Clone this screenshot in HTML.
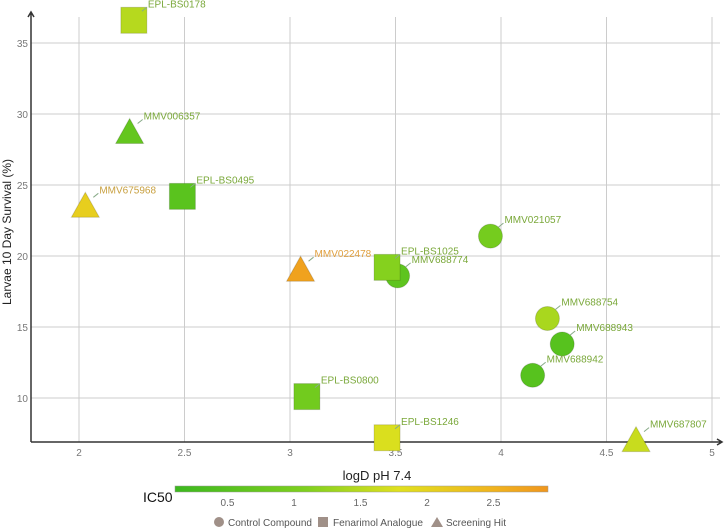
<!DOCTYPE html>
<html><head><meta charset="utf-8"><style>
html,body{margin:0;padding:0;background:#fff;}
svg{display:block;font-family:"Liberation Sans",sans-serif;}
</style></head><body>
<svg id="chart" width="725" height="531" viewBox="0 0 725 531">
<g id="grid"></g>
<g id="axes"></g>
<g id="marks"></g>
<text x="377" y="480" font-size="13" text-anchor="middle" fill="#222">logD pH 7.4</text>
<text transform="translate(11,232) rotate(-90)" font-size="12" text-anchor="middle" fill="#222">Larvae 10 Day Survival (%)</text>
<defs><linearGradient id="cg" x1="0" x2="1" y1="0" y2="0">
<stop offset="0" stop-color="#3cb81e"/><stop offset="0.35" stop-color="#7fd01e"/><stop offset="0.6" stop-color="#e0e01e"/><stop offset="0.85" stop-color="#f0b41e"/><stop offset="1" stop-color="#f0961e"/></linearGradient></defs>
<rect x="175" y="486" width="373" height="6" fill="url(#cg)" stroke="#999" stroke-width="0.5"/>
<text x="143" y="502" font-size="14" fill="#111">IC50</text>
<g id="cbticks"></g>
<g font-size="10.5" fill="#555">
<g><circle cx="219" cy="522" r="5" fill="#a09088"/><text x="228" y="526" textLength="84" lengthAdjust="spacingAndGlyphs">Control Compound</text></g>
<g><rect x="318" y="517" width="10" height="10" fill="#a09088"/><text x="333" y="526" textLength="90" lengthAdjust="spacingAndGlyphs">Fenarimol Analogue</text></g>
<g><polygon points="431,527 443,527 437,517" fill="#a09088"/><text x="446" y="526" textLength="60" lengthAdjust="spacingAndGlyphs">Screening Hit</text></g>
</g>
</svg>
<script>
const names=["EPL-BS0178","MMV006357","MMV675968","EPL-BS0495","MMV022478","EPL-BS1025","MMV688774","MMV021057","MMV688754","MMV688943","MMV688942","EPL-BS0800","EPL-BS1246","MMV687807"];
const logD=[2.26,2.24,2.03,2.49,3.05,3.46,3.51,3.95,4.22,4.29,4.15,3.08,3.46,4.64];
const survival=[36.6,28.7,23.5,24.2,19.0,19.2,18.6,21.4,15.6,13.8,11.6,10.1,7.2,7.0];
const ic50=[1.45,0.6,2.05,0.45,2.7,1.05,0.5,0.85,1.35,0.4,0.4,0.8,1.75,1.6];
const shapes=["square","triangle","triangle","square","triangle","square","circle","circle","circle","circle","circle","square","square","triangle"];
const xTicks=[2,2.5,3,3.5,4,4.5,5];
const yTicks=[10,15,20,25,30,35];
const cbTicks=[0.5,1,1.5,2,2.5];
const NS="http://www.w3.org/2000/svg";
const X=v=>79+(v-2)*211;
const Y=v=>398-(v-10)*14.2;
const C=v=>161+v*133;
function mk(t,a,p){const e=document.createElementNS(NS,t);for(const k in a)e.setAttribute(k,a[k]);p.appendChild(e);return e;}
function lerp(a,b,t){return a.map((v,i)=>Math.round(v+(b[i]-v)*t));}
const stops=[[0,[60,184,30]],[1,[127,208,30]],[1.8,[224,224,30]],[2.4,[240,180,30]],[2.9,[240,150,30]]];
function col(v){for(let i=0;i<stops.length-1;i++){if(v<=stops[i+1][0]){const t=Math.max(0,(v-stops[i][0])/(stops[i+1][0]-stops[i][0]));return "rgb("+lerp(stops[i][1],stops[i+1][1],t).join(",")+")";}}return "rgb(240,150,30)";}
function lcol(v){return v>2.3?"#e0a040":v>1.9?"#c8a040":"#7aa83a";}
const grid=document.getElementById('grid'),axes=document.getElementById('axes'),marks=document.getElementById('marks'),cbt=document.getElementById('cbticks');
xTicks.forEach(t=>{
 const l=mk('line',{x1:X(t),x2:X(t),y1:17,y2:442,stroke:"#ccc","stroke-width":1},grid);
 
 
 const tx=mk('text',{x:X(t),y:456,"font-size":10,"text-anchor":"middle",fill:"#777"},axes);tx.textContent=t;
 
 
});
yTicks.forEach(t=>{
 const l=mk('line',{x1:31,x2:720,y1:Y(t),y2:Y(t),stroke:"#ccc","stroke-width":1},grid);
 
 
 const tx=mk('text',{x:28,y:Y(t)+4,"font-size":10,"text-anchor":"end",fill:"#777"},axes);tx.textContent=t;
 
 
});
const xa=mk('path',{d:"M31 442H722M717 439L722 442L717 445",stroke:"#333",fill:"none","stroke-width":1.5},axes);


const ya=mk('path',{d:"M31 442V12M28 17L31 12L34 17",stroke:"#333",fill:"none","stroke-width":1.5},axes);


cbTicks.forEach(t=>{const tx=mk('text',{x:C(t),y:506,"font-size":10,"text-anchor":"middle",fill:"#666"},cbt);tx.textContent=t;
 
 });
const order=names.map((n,i)=>i).sort((a,b)=>(shapes[a]==="circle"?0:1)-(shapes[b]==="circle"?0:1));
order.forEach(i=>{
 const n=names[i];
 const cx=X(logD[i]),cy=Y(survival[i]),f=col(ic50[i]),s="rgba(0,0,0,0.15)";
 const g=mk('g',{},marks);
 
 
 if(shapes[i]==="square")mk('rect',{x:cx-13,y:cy-13,width:26,height:26,fill:f,stroke:s},g);
 else if(shapes[i]==="circle")mk('circle',{cx:cx,cy:cy,r:12,fill:f,stroke:s},g);
 else mk('polygon',{points:`${cx-14},${cy+11} ${cx+14},${cy+11} ${cx},${cy-14}`,fill:f,stroke:s},g);
 mk('line',{x1:cx+8,y1:cy-9,x2:cx+13,y2:cy-13,stroke:"#8a8",'stroke-width':1},g);
 const tx=mk('text',{x:cx+14,y:cy-13,"font-size":10,fill:lcol(ic50[i])},g);tx.textContent=n;
});
</script>
</body></html>
